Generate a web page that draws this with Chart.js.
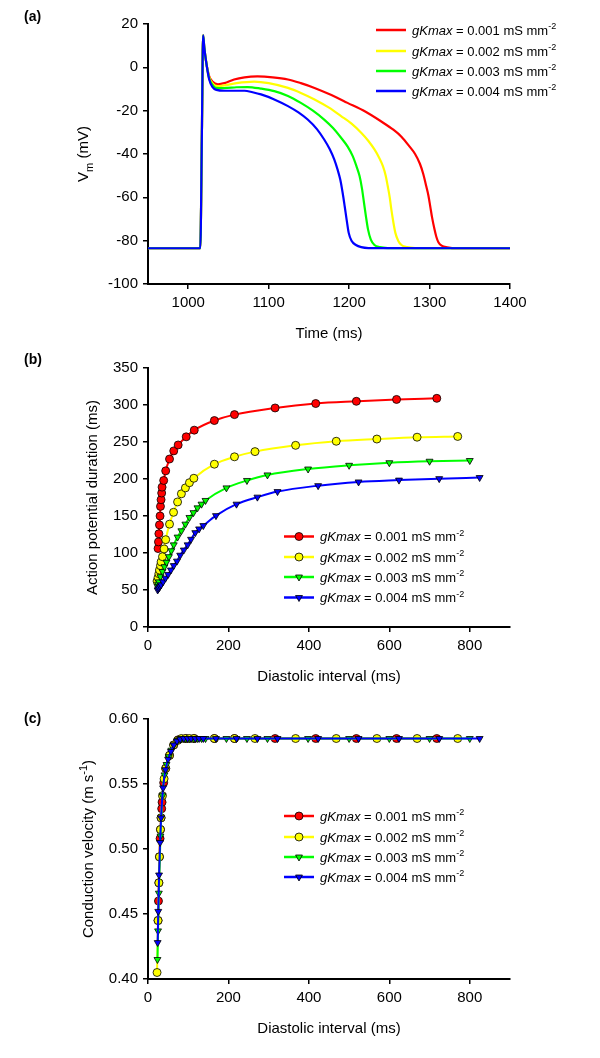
<!DOCTYPE html>
<html><head><meta charset="utf-8">
<script src="https://cdn.jsdelivr.net/npm/chart.js@4.4.1/dist/chart.umd.min.js"></script>
<style>
html,body{margin:0;padding:0;background:#fff;}
#wrap{position:relative;width:600px;height:1058px;overflow:hidden;}
canvas{position:absolute;left:0;}
</style></head><body>
<div id="wrap">
<canvas id="ca" width="600" height="345" style="top:0;width:600px;height:345px"></canvas>
<canvas id="cb" width="600" height="345" style="top:345px;width:600px;height:345px"></canvas>
<canvas id="cc" width="600" height="368" style="top:690px;width:600px;height:368px"></canvas>
</div>
<script>
const FONT = '"Liberation Sans", Arial, Helvetica, sans-serif';

// ---------- Panel (a): action potentials ----------
const timeTicks = [1000, 1100, 1200, 1300, 1400];
const vmTicks = [-100, -80, -60, -40, -20, 0, 20];
const vmRed = [[950,-83.5],[1015,-83.5],[1017,-30],[1018.5,14.8],[1020,9],[1022.5,2],[1026,-4],[1030,-6.5],[1037,-7.8],[1045,-7.3],[1057,-5.6],[1070,-4.6],[1086,-4.2],[1105,-4.6],[1124,-5.6],[1140,-7.3],[1157,-9.5],[1178,-12.8],[1198,-16.4],[1220,-20.4],[1240,-25],[1255,-28.8],[1265,-32],[1275,-36.5],[1282,-40],[1288,-44.5],[1292,-49],[1296,-55],[1298.5,-59],[1301,-64.5],[1303,-69],[1306,-74.5],[1308.5,-78.3],[1311,-80.7],[1315,-82.3],[1322,-83.1],[1335,-83.5],[1400,-83.5]];
const vmYellow = [[950,-83.5],[1015,-83.5],[1017,-30],[1018.5,14.8],[1020,9],[1022.5,2],[1026,-4.5],[1030,-7.3],[1036,-8.7],[1045,-8.3],[1060,-7.3],[1082,-6.6],[1100,-7.3],[1124,-9.5],[1140,-11.8],[1157,-14.8],[1175,-18.6],[1190,-22.5],[1203,-26],[1215,-30.2],[1224,-34],[1231.5,-37.9],[1237,-41.5],[1242,-45.6],[1245.5,-50],[1248,-54.8],[1250.5,-60],[1252.5,-65.6],[1255,-71.5],[1257.5,-76.4],[1261,-80],[1265,-82],[1272,-83],[1282,-83.4],[1400,-83.5]];
const vmGreen = [[950,-83.5],[1015,-83.5],[1017,-30],[1018.5,14.8],[1020,9],[1022.5,2],[1026,-5],[1030,-8],[1034.5,-9.5],[1045,-9.6],[1060,-9.2],[1074,-9.1],[1090,-9.8],[1107,-11],[1124,-13.2],[1140,-16.4],[1155,-20],[1169,-24.1],[1180,-28],[1190,-32.5],[1198,-36.5],[1204.5,-41],[1209,-45.5],[1213,-50.2],[1216,-56],[1218.5,-62.5],[1221,-69],[1223.5,-74.8],[1227,-79.5],[1231.5,-82],[1238,-83],[1248,-83.4],[1400,-83.5]];
const vmBlue = [[950,-83.5],[1015,-83.5],[1017,-30],[1018.5,14.8],[1020,9],[1022.5,2],[1026,-5.5],[1030,-9],[1035,-10.4],[1045,-10.8],[1060,-10.8],[1070,-10.8],[1080,-11.5],[1090.5,-12.5],[1107,-14.8],[1124,-17.9],[1137,-20.8],[1148.5,-24.1],[1160,-28.5],[1169,-33.3],[1176,-37.8],[1181.5,-42.5],[1185.5,-47],[1189,-51.8],[1192,-58],[1194.5,-64.1],[1197,-70.5],[1199.5,-76.4],[1203,-80],[1208.5,-82],[1215,-83],[1224,-83.4],[1400,-83.5]];

// ---------- Panels (b) and (c): restitution ----------
const diTicks = [0, 200, 400, 600, 800];
const apdTicks = [0, 50, 100, 150, 200, 250, 300, 350];
const cvTicks = [0.40, 0.45, 0.50, 0.55, 0.60];
const gkLabels = ['0.001', '0.002', '0.003', '0.004'];

const diRed  = [25,26,27,28.5,30,31,32.5,34,35,39,44,53.5,64,75,95,115,165,215,316,417,518,618,718];
const apdRed = [106,115,126,138,150,163,172,181,189,198,211,227,238,246,257,266,279,287,296,302,305,307.5,309];
const cvRed  = [0.445,0.46,0.474,0.494,0.508,0.515,0.524,0.531,0.536,0.551,0.562,0.572,0.58,0.584,0.585,0.585,0.585,0.585,0.585,0.585,0.585,0.585,0.585];

const diYellow  = [22.5,25,27,28.5,31,32.5,36,40,44,53.5,63.5,73.5,83,93,103,114,165,215,266,367,468,569,669,770];
const apdYellow = [62,67,72,77,83,88,95,105.5,118,139,155,169,180,188,195,201,220,230,237,245.5,251,254,256.5,257.5];
const cvYellow  = [0.405,0.445,0.474,0.494,0.515,0.524,0.541,0.554,0.562,0.572,0.58,0.5835,0.585,0.585,0.585,0.585,0.585,0.585,0.585,0.585,0.585,0.585,0.585,0.585];

const diGreen  = [23.5,25,27,31,36,41,46,52,58,64,73.5,83,93,103,113,123,133,143,195,246,297,398,500,600,700,800];
const apdGreen = [55,58,61,68,75,81.5,87.5,95,103,111,121.5,130,139,148,154.5,161,166,171,188,198,205.5,213.5,218.5,222,224,225];
const cvGreen  = [0.415,0.437,0.466,0.51,0.541,0.557,0.565,0.571,0.576,0.58,0.5835,0.585,0.585,0.585,0.585,0.585,0.585,0.585,0.585,0.585,0.585,0.585,0.585,0.585,0.585,0.585];

const diBlue  = [24,25.5,27.5,30,32.5,37.5,43.5,50,57,64,72,80,89,98.5,107,117.5,127,137.5,169,220,272,322,423,523.5,624,724,824.5];
const apdBlue = [50,51.5,53,55,57,61,66,71,77,83,89,97,104,111,118.5,127.5,132.5,137,150.5,166,175.5,183,191,196,198.5,200.5,202];
const cvBlue  = [0.428,0.452,0.48,0.505,0.524,0.547,0.561,0.569,0.575,0.58,0.583,0.5845,0.585,0.585,0.585,0.585,0.585,0.585,0.585,0.585,0.585,0.585,0.585,0.585,0.585,0.585,0.585];

// ---------- styles ----------
const styles = [
  {color:'#ff0000', point:'circle',   rot:0},
  {color:'#ffff00', point:'circle',   rot:0},
  {color:'#00ff00', point:'triangle', rot:180},
  {color:'#0000ff', point:'triangle', rot:180}
];

function segFont(g, size) {
  const small = (g.s === 'sup' || g.s === 'sub');
  const sz = small ? Math.round(size * 0.72) : size;
  return (g.s === 'i' ? 'italic ' : '') + sz + 'px ' + FONT;
}
function richWidth(ctx, segs, size) {
  let w = 0;
  for (const g of segs) { ctx.font = segFont(g, size); w += ctx.measureText(g.t).width; }
  return w;
}
function drawRich(ctx, segs, x, y, size, align) {
  const w = richWidth(ctx, segs, size);
  let cx = align === 'center' ? x - w / 2 : x;
  ctx.textAlign = 'left'; ctx.textBaseline = 'alphabetic';
  for (const g of segs) {
    ctx.font = segFont(g, size);
    const dy = g.s === 'sup' ? -size * 0.42 : (g.s === 'sub' ? size * 0.28 : 0);
    ctx.fillText(g.t, cx, y + dy);
    cx += ctx.measureText(g.t).width;
  }
}
function legendSegs(i) {
  return [{t:'gKmax', s:'i'}, {t:' = ' + gkLabels[i] + ' mS mm', s:'n'}, {t:'-2', s:'sup'}];
}

function makeDecor(cfg) {
  return {
    id: 'decor',
    afterDraw(chart) {
      const ctx = chart.ctx, a = chart.chartArea;
      ctx.save();
      ctx.fillStyle = '#000';
      ctx.font = 'bold 14px ' + FONT; ctx.textAlign = 'left'; ctx.textBaseline = 'middle';
      ctx.fillText(cfg.panel, 24, cfg.panelY);
      drawRich(ctx, cfg.xTitle, (a.left + a.right) / 2, a.bottom + 49 + 0.36 * 15, 15, 'center');
      ctx.save();
      ctx.translate(cfg.yTitleX, (a.top + a.bottom) / 2);
      ctx.rotate(-Math.PI / 2);
      drawRich(ctx, cfg.yTitle, 0, 0.36 * 15, 15, 'center');
      ctx.restore();
      // legend
      const L = cfg.legend;
      chart.data.datasets.forEach((ds, i) => {
        const y = L.ys[i];
        ctx.strokeStyle = styles[i].color; ctx.lineWidth = 2.5; ctx.lineCap = 'butt';
        ctx.beginPath(); ctx.moveTo(L.x0, y); ctx.lineTo(L.x1, y); ctx.stroke();
        if (L.markers) {
          ctx.fillStyle = styles[i].color; ctx.strokeStyle = '#000'; ctx.lineWidth = 0.8;
          Chart.helpers.drawPoint(ctx, {pointStyle: styles[i].point, radius: 4, rotation: styles[i].rot, borderWidth: 0.8}, (L.x0 + L.x1) / 2, y);
        }
        ctx.fillStyle = '#000';
        drawRich(ctx, legendSegs(i), L.tx, y + 0.36 * 13, 13, 'left');
      });
      ctx.restore();
    }
  };
}

function axis(min, max, ticks, fmt, fit) {
  return {
    type: 'linear', min, max,
    afterBuildTicks: s => { s.ticks = ticks.map(v => ({value: v})); },
    afterFit: fit,
    grid: {display: true, drawOnChartArea: false, drawTicks: true, tickLength: 5, color: '#000', lineWidth: 1.5},
    border: {display: true, color: '#000', width: 2},
    ticks: {color: '#000', font: {family: FONT, size: 15}, padding: 5, autoSkip: false, maxRotation: 0, callback: fmt},
    title: {display: false}
  };
}
const yFit = s => { s.width = 148; s.paddingTop = 0; s.paddingBottom = 0; };
const xFit = h => (s => { s.height = h; s.paddingLeft = 0; s.paddingRight = 0; });

function baseOptions(padTop, xScale, yScale) {
  return {
    responsive: false, animation: false, devicePixelRatio: 1,
    layout: {padding: {left: 0, right: 90, top: padTop, bottom: 0}},
    plugins: {legend: {display: false}, tooltip: {enabled: false}},
    scales: {x: xScale, y: yScale}
  };
}

function lineDs(pairs, i) {
  return {
    label: 'gKmax = ' + gkLabels[i] + ' mS mm-2',
    data: pairs.map(p => ({x: p[0], y: p[1]})),
    borderColor: styles[i].color, backgroundColor: styles[i].color,
    borderWidth: 2.2, pointRadius: 0, cubicInterpolationMode: 'monotone', fill: false, order: 4 - i
  };
}
function markDs(xs, ys, i) {
  return {
    label: 'gKmax = ' + gkLabels[i] + ' mS mm-2',
    data: xs.map((x, k) => ({x: x, y: ys[k]})),
    borderColor: styles[i].color, backgroundColor: styles[i].color, borderWidth: 2,
    pointStyle: styles[i].point, pointRotation: styles[i].rot, pointRadius: 4,
    pointBackgroundColor: styles[i].color, pointBorderColor: '#000', pointBorderWidth: 0.8,
    cubicInterpolationMode: 'monotone', fill: false, order: 4 - i
  };
}

const plain = v => String(v);

// Panel (a)
new Chart(document.getElementById('ca'), {
  type: 'line',
  data: {datasets: [lineDs(vmRed,0), lineDs(vmYellow,1), lineDs(vmGreen,2), lineDs(vmBlue,3)]},
  options: baseOptions(24, axis(950, 1400, timeTicks, plain, xFit(61)), axis(-100, 20, vmTicks, plain, yFit)),
  plugins: [makeDecor({
    panel: '(a)', panelY: 17,
    xTitle: [{t:'Time (ms)'}],
    yTitle: [{t:'V'}, {t:'m', s:'sub'}, {t:' (mV)'}], yTitleX: 83,
    legend: {x0: 376, x1: 406, tx: 412, ys: [30, 51, 71, 91], markers: false}
  })]
});

// Panel (b)
new Chart(document.getElementById('cb'), {
  type: 'line',
  data: {datasets: [markDs(diRed, apdRed, 0), markDs(diYellow, apdYellow, 1), markDs(diGreen, apdGreen, 2), markDs(diBlue, apdBlue, 3)]},
  options: baseOptions(23, axis(0, 900, diTicks, plain, xFit(63)), axis(0, 350, apdTicks, plain, yFit)),
  plugins: [makeDecor({
    panel: '(b)', panelY: 15,
    xTitle: [{t:'Diastolic interval (ms)'}],
    yTitle: [{t:'Action potential duration (ms)'}], yTitleX: 92,
    legend: {x0: 284, x1: 314, tx: 320, ys: [191.5, 212, 232, 252.5], markers: true}
  })]
});

// Panel (c)
new Chart(document.getElementById('cc'), {
  type: 'line',
  data: {datasets: [markDs(diRed, cvRed, 0), markDs(diYellow, cvYellow, 1), markDs(diGreen, cvGreen, 2), markDs(diBlue, cvBlue, 3)]},
  options: baseOptions(29, axis(0, 900, diTicks, plain, xFit(79)), axis(0.40, 0.60, cvTicks, v => Number(v).toFixed(2), yFit)),
  plugins: [makeDecor({
    panel: '(c)', panelY: 29,
    xTitle: [{t:'Diastolic interval (ms)'}],
    yTitle: [{t:'Conduction velocity (m s'}, {t:'-1', s:'sup'}, {t:')'}], yTitleX: 88,
    legend: {x0: 284, x1: 314, tx: 320, ys: [126, 147, 167, 187], markers: true}
  })]
});
</script>
</body></html>
